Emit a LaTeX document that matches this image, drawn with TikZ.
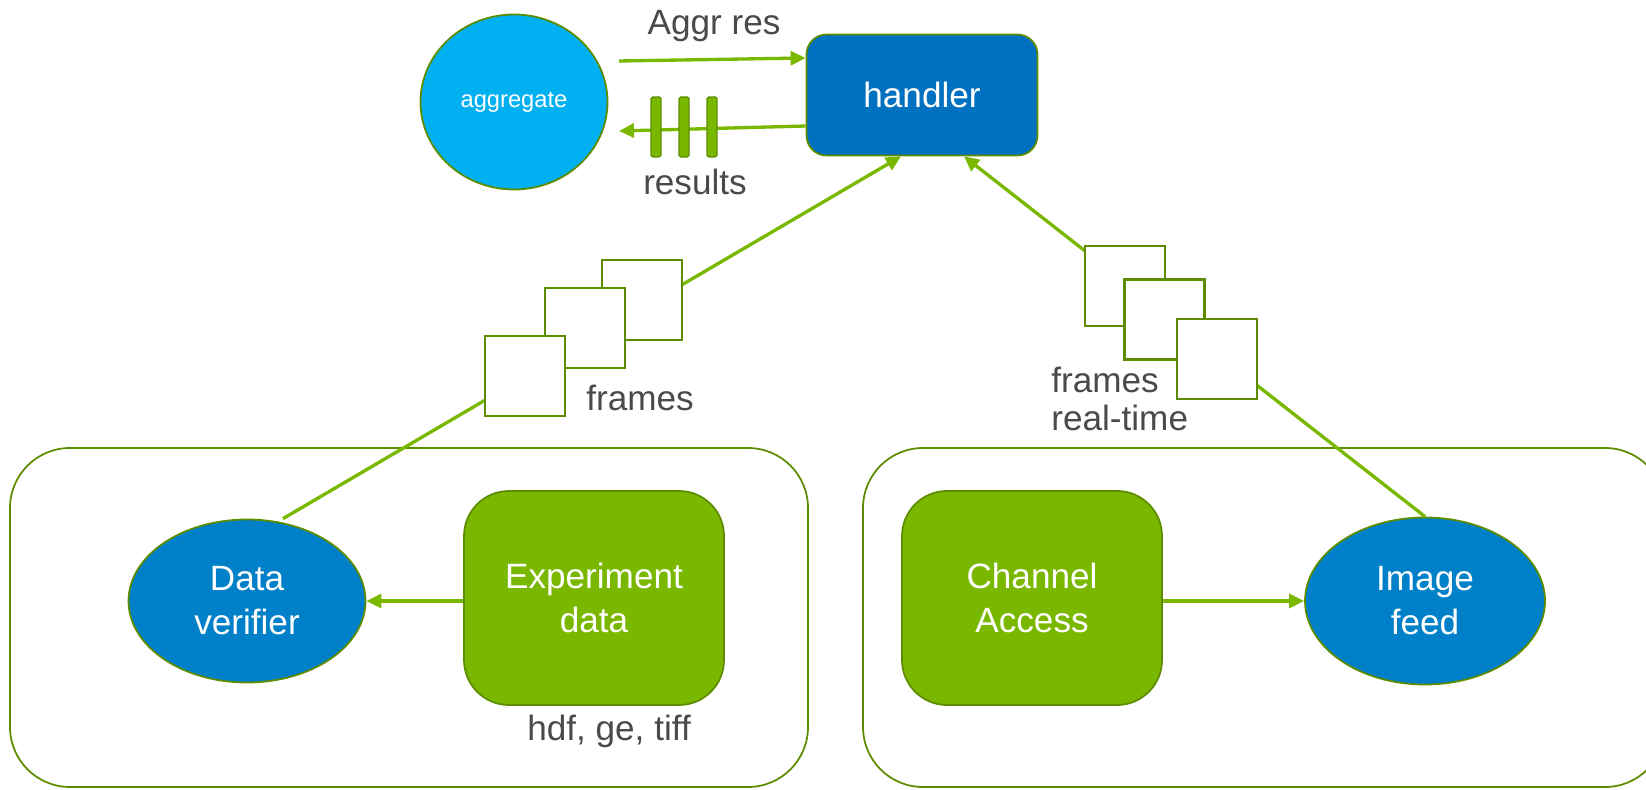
\documentclass[tikz,border=0pt]{standalone}
\usepackage{fontspec}
\setmainfont{Liberation Sans}
\usetikzlibrary{positioning, arrows.meta, shapes.geometric, calc}
\definecolor{GreenA}{HTML}{7AB800}
\definecolor{GreenB}{HTML}{5E8C00}
\definecolor{BlueA}{HTML}{0070C0}
\definecolor{BlueB}{HTML}{0080C8}
\definecolor{SkyA}{HTML}{00B0F0}
\definecolor{GrayA}{HTML}{4A4A4A}
\tikzset{
  big/.style={font=\fontsize{20}{25}\selectfont},
  proc/.style={draw=GreenB, fill=GreenA, rounded corners=0.9cm, text=white,
               big, align=center, minimum width=5.2cm, minimum height=4.28cm,
               line width=1pt},
  oval/.style={ellipse, draw=GreenB, fill=BlueB, text=white, big,
               align=center, inner sep=0pt, line width=1pt},
  group/.style={draw=GreenB, rounded corners=1.2cm, line width=1pt},
  frm/.style={draw=GreenB, fill=white, minimum size=1.6cm, inner sep=0pt,
              line width=1.5pt},
  bar/.style={draw=GreenB, fill=GreenA, minimum width=0.2cm,
              minimum height=1.2cm, rounded corners=1pt, inner sep=0pt,
              line width=0.8pt},
  arr/.style={-{Triangle[length=3mm, width=2.8mm]}, draw=GreenA, line width=1.9pt},
  lbl/.style={text=GrayA, big, inner sep=0pt}
}

\begin{document}
\begin{tikzpicture}
  \useasboundingbox (0,0) rectangle (32.92,-15.8);

  % ----- Outer groups -----
  \node[group, minimum width=15.96cm, minimum height=6.78cm] (grpL) at (8.18,-12.35) {};
  \node[group, minimum width=16.04cm, minimum height=6.78cm] (grpR) at (25.28,-12.35) {};

  % ----- Top row -----
  \node[ellipse, draw=GreenB, fill=SkyA, text=white, line width=1pt,
        minimum width=3.74cm, minimum height=3.5cm, inner sep=0pt,
        font=\fontsize{13.5}{16}\selectfont] (aggr) at (10.28,-2.04) {aggregate};

  \node[draw=GreenB, fill=BlueA, text=white, big, rounded corners=0.4cm,
        minimum width=4.62cm, minimum height=2.42cm, line width=1pt]
    (handler) at (18.44,-1.90) {handler};

  \node[lbl] (aggrres) at (14.28,-0.52) {Aggr res};

  % ----- Bottom nodes -----
  \node[oval, minimum width=4.74cm, minimum height=3.26cm] (verifier)
    at (4.94,-12.02) {Data\\verifier};
  \node[proc] (exp) at (11.88,-11.96) {Experiment\\data};
  \node[lbl, below=0.17cm of exp, xshift=0.3cm] (fmt) {hdf, ge, tiff};

  \node[proc] (chan) at (20.64,-11.96) {Channel\\Access};
  \node[oval, minimum width=4.8cm, minimum height=3.34cm] (feed)
    at (28.5,-12.02) {Image\\feed};

  % ----- Arrows -----
  \draw[arr] ($(aggr.center)+(2.1,0.82)$) -- ($(handler.west)+(0,0.74)$);
  \draw[arr] ($(handler.west)+(0,-0.62)$) -- ($(aggr.center)+(2.1,-0.58)$);
  \draw[arr] (exp.west |- verifier.east) -- (verifier.east);
  \draw[arr] (chan.east |- feed.west) -- (feed.west);
  \draw[arr] ($(verifier.north)+(0.72,0)$) -- ($(handler.south)+(-0.42,0)$);
  \draw[arr] (feed.north) -- ($(handler.south)+(0.84,0)$);

  % ----- Results packets -----
  \node[bar] (bar1) at (13.12,-2.54) {};
  \node[bar] (bar2) at (13.68,-2.54) {};
  \node[bar] (bar3) at (14.24,-2.54) {};
  \node[lbl, below=0.22cm of bar2, xshift=0.22cm] (res) {results};

  % ----- Frame stacks -----
  \node[frm] (fl1) at (12.84,-6.0) {};
  \node[frm] (fl2) at (11.70,-6.56) {};
  \node[frm] (fl3) at (10.50,-7.52) {};
  \node[lbl] (frl) at (12.8,-7.96) {frames};

  \node[frm] (fr1) at (22.5,-5.72) {};
  \node[frm] (fr2) at (23.29,-6.39) {};
  \node[frm] (fr3) at (24.34,-7.18) {};
  \node[lbl, anchor=west, align=left, font=\fontsize{20}{22}\selectfont]
    (frr) at (21.02,-7.98) {frames\\real-time};

\end{tikzpicture}
\end{document}
